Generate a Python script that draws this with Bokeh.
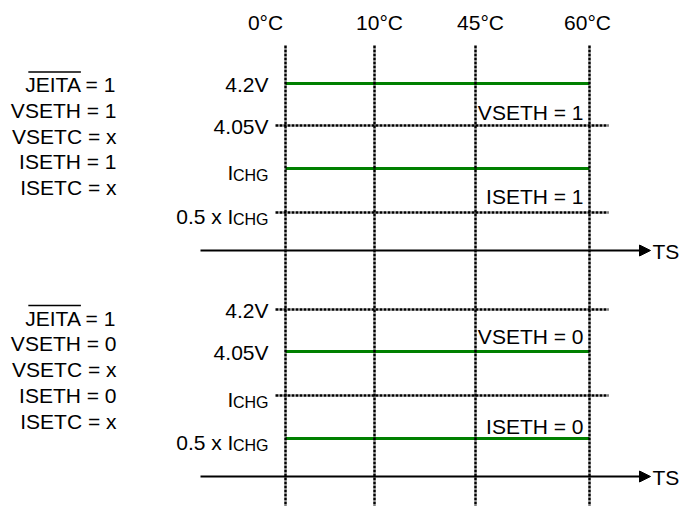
from bokeh.plotting import figure
from bokeh.models import Arrow, NormalHead, Range1d
from bokeh.core.properties import value
from bokeh.embed import file_html
from bokeh.resources import INLINE

# ---------------- data ----------------
temps = ["0°C", "10°C", "45°C", "60°C"]
level_main = ["4.2V", "4.05V", "I", "0.5 x I"]
level_sub = ["", "", "CHG", "CHG"]
# 1 = active (green) level, 0 = inactive (dotted) for each panel
panel_active = [[1, 0, 1, 0], [0, 1, 0, 1]]
setting_names = ["JEITA", "VSETH", "VSETC", "ISETH", "ISETC"]
setting_values = [["1", "1", "x", "1", "x"], ["1", "0", "x", "0", "x"]]
hot_labels = [["VSETH = 1", "ISETH = 1"], ["VSETH = 0", "ISETH = 0"]]
hot_label_level = [1, 3]
axis_label = "TS"

# ---------------- layout (page pixels) ----------------
W, H = 682, 506
FONT = value("Liberation Sans")
FS = 21
SUB_FS = 16
TEMP_X = [285, 374, 475, 589]
TEMP_LABEL_X = [265, 379, 480, 587]
TEMP_LABEL_Y = 21.5
VLINE_Y = (45, 510)
LEVEL_Y = [[83, 125, 168, 212], [309, 351, 395, 438]]
LEVEL_OFF = [0.5, 0.5, 3.5, 3.5]
SUB_OFF = 7
LEVEL_LABEL_RIGHT = 268
DOT_X = (275, 608)
AXIS_X = (200, 650)
AXIS_Y = [250, 476]
SET_RIGHT = 116
SET_Y0 = [84, 317.5]
SET_STEP = 25.8
HOT_RIGHT = 583
HOT_OFF = [[-13, -16.5], [-15, -12]]

ARIAL = {'J': 0.5, 'E': 0.667, 'I': 0.278, 'T': 0.611, 'A': 0.667, ' ': 0.278,
         '=': 0.584, '1': 0.556, '0': 0.556, 'x': 0.5, 'C': 0.722, 'H': 0.722,
         'G': 0.778, 'S': 0.667, 'V': 0.667}


def tw(s, fs):
    return sum(ARIAL.get(c, 0.556) for c in s) * fs


p = figure(width=W, height=H, x_range=Range1d(0, W), y_range=Range1d(H, 0),
           output_backend="svg", toolbar_location=None, min_border=0,
           x_axis_location=None, y_axis_location=None)
p.grid.visible = False
p.outline_line_color = None
p.background_fill_color = "white"

GREEN = "#008000"
TXT = dict(text_baseline="middle", text_font=FONT, text_color="black")

# horizontal level lines
gx0, gx1, gy, dx0, dx1, dy = [], [], [], [], [], []
for k in range(2):
    for j in range(4):
        y = LEVEL_Y[k][j]
        if panel_active[k][j]:
            gx0.append(TEMP_X[0]); gx1.append(TEMP_X[-1]); gy.append(y)
        else:
            dx0.append(DOT_X[0]); dx1.append(DOT_X[1]); dy.append(y)

p.segment(x0=dx0, y0=dy, x1=dx1, y1=dy, line_color="black", line_width=2.5,
          line_dash="3 1")
p.segment(x0=gx0, y0=gy, x1=gx1, y1=gy, line_color=GREEN, line_width=3)

# axes with arrows
for ay in AXIS_Y:
    p.add_layout(Arrow(x_start=AXIS_X[0], y_start=ay, x_end=AXIS_X[1], y_end=ay,
                       line_color="black", line_width=2,
                       end=NormalHead(size=11, fill_color="black", line_color="black")))

# vertical temperature lines
p.segment(x0=TEMP_X, y0=[VLINE_Y[0]] * 4, x1=TEMP_X, y1=[VLINE_Y[1]] * 4,
          line_color="black", line_width=2.5, line_dash="3 1")

# temperature labels
p.text(x=TEMP_LABEL_X, y=[TEMP_LABEL_Y] * 4, text=temps, text_align="center",
       text_font_size=f"{FS}px", **TXT)

# level labels
mx, my, mt, sx, sy, st = [], [], [], [], [], []
for k in range(2):
    for j in range(4):
        y = LEVEL_Y[k][j]
        sub = level_sub[j]
        if sub:
            sx.append(LEVEL_LABEL_RIGHT); sy.append(y + SUB_OFF); st.append(sub)
            mx.append(LEVEL_LABEL_RIGHT - tw(sub, SUB_FS) + 0.5)
        else:
            mx.append(LEVEL_LABEL_RIGHT)
        my.append(y + LEVEL_OFF[j]); mt.append(level_main[j])
p.text(x=mx, y=my, text=mt, text_align="right", text_font_size=f"{FS}px", **TXT)
p.text(x=sx, y=sy, text=st, text_align="right", text_font_size=f"{SUB_FS}px", **TXT)

# settings blocks
tx, ty, tt = [], [], []
ox0, ox1, oy = [], [], []
for k in range(2):
    for i, name in enumerate(setting_names):
        s = f"{name} = {setting_values[k][i]}"
        yc = SET_Y0[k] + SET_STEP * i
        tx.append(SET_RIGHT); ty.append(yc); tt.append(s)
        if i == 0:
            start = SET_RIGHT - tw(s, FS)
            ox0.append(start + 0.22 * FS); ox1.append(start + tw(name, FS))
            oy.append(yc - 12.5)
p.text(x=tx, y=ty, text=tt, text_align="right", text_font_size=f"{FS}px", **TXT)
p.segment(x0=ox0, y0=oy, x1=ox1, y1=oy, line_color="black", line_width=1.5)

# hot labels
hx, hy, ht = [], [], []
for k in range(2):
    for m, lab in enumerate(hot_labels[k]):
        y = LEVEL_Y[k][hot_label_level[m]] + HOT_OFF[k][m]
        hx.append(HOT_RIGHT); hy.append(y); ht.append(lab)
p.text(x=hx, y=hy, text=ht, text_align="right", text_font_size=f"{FS}px", **TXT)

# TS labels
p.text(x=[AXIS_X[1] + 2] * 2, y=[ay + 1 for ay in AXIS_Y], text=[axis_label] * 2,
       text_align="left", text_font_size=f"{FS}px", **TXT)

open("out.html", "w").write(file_html(p, INLINE))
